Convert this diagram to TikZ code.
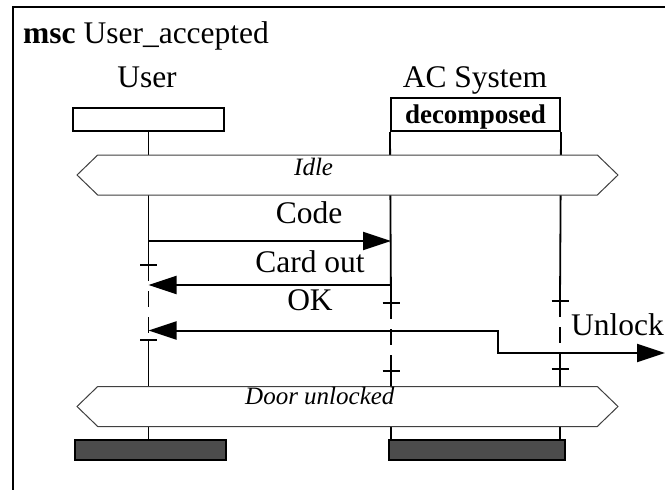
\documentclass[tikz,border=0pt]{standalone}
\usepackage{fontspec}
\setmainfont{Liberation Serif}
\usetikzlibrary{arrows.meta,shapes.symbols}

\tikzset{
  big/.style={font=\fontsize{31.5}{34}\selectfont, inner sep=0pt},
  condlbl/.style={font=\fontsize{25}{28}\selectfont\itshape, inner sep=0pt},
  headbox/.style={draw, line width=2pt, fill=white},
  endbox/.style={draw, line width=2pt, fill=black!70},
  cond/.style={signal, signal to=west and east, signal pointer angle=88,
    draw=black!75, line width=1pt, fill=white,
    minimum height=40pt, minimum width=541pt, inner sep=0pt},
  life/.style={line width=1.8pt},
  coreg/.style={line width=1.8pt, dash pattern=on 16pt off 10pt},
  msg/.style={line width=2pt, -{Triangle[length=28pt,width=18pt]}},
}

\begin{document}
\begin{tikzpicture}[x=1pt,y=-1pt]
 \useasboundingbox (0,0) rectangle (665,490);
 \clip (0,0) rectangle (665,490);
 % frame
 \draw [line width=2.6pt] (13,500) -- (13,7) -- (690,7);
 \node[big, anchor=base west] (title) at (23,43) {\textbf{msc} User\_accepted};
 % instance heads
 \node[big, anchor=base] (username) at (147,87) {User};
 \node[big, anchor=base] (acname) at (475,87) {AC System};
 \node[headbox, minimum width=151pt, minimum height=23pt] (userhead) at (148.5,119.5) {};
 \node[headbox, minimum width=169pt, minimum height=33pt, inner sep=0pt,
   text height=18pt, text depth=0pt, font=\fontsize{27}{30}\selectfont\bfseries]
   (achead) at (475.5,114.5) {decomposed};
 % instance ends
 \node[endbox, minimum width=151pt, minimum height=20pt] (userend) at (150.5,450) {};
 \node[endbox, minimum width=176pt, minimum height=20pt] (acend) at (477,450) {};
 % lifelines
 \coordinate (u1) at (148.5,265);
 \coordinate (u2) at (148.5,340);
 \coordinate (al1) at (391,303);
 \coordinate (al2) at (391,371);
 \coordinate (ar1) at (560,301);
 \coordinate (ar2) at (560,369);
 \draw [life] (userhead.south) -- (u1);
 \draw [coreg] (u1) -- (u2);
 \draw [life] (u2) -- (u2 |- userend.north);
 \draw [life] (achead.south west) -- (al1);
 \draw [coreg] (al1) -- (al2);
 \draw [life] (al2) -- (al2 |- acend.north);
 \draw [life] (achead.south east) -- (ar1);
 \draw [coreg] (ar1) -- (ar2);
 \draw [life] (ar2) -- (ar2 |- acend.north);
 % coregion ticks
 \foreach \c in {u1,u2,al1,al2,ar1,ar2}
   \draw [life] ([xshift=-8.5pt]\c) -- ([xshift=8.5pt]\c);
 % conditions
 \node[cond] (idle) at (347.5,175) {};
 \node[condlbl, anchor=base west] (idlelbl) at (294,175) {Idle};
 \node[cond] (doorunl) at (347.5,406.5) {};
 \node[condlbl, anchor=base west] (doorlbl) at (245,404) {Door unlocked};
 % messages
 \coordinate (codeu) at (148.5,241);
 \draw [msg] (codeu) -- (codeu -| al1);
 \node[big, anchor=base] (codelbl) at (309,223) {Code};
 \coordinate (cardac) at (391,285);
 \draw [msg] (cardac) -- (cardac -| u1);
 \node[big, anchor=base] (cardlbl) at (310,272) {Card out};
 \coordinate (okac) at (560,353);
 \coordinate (okbend) at (498,330.5);
 \draw [msg] (okac) -| (okbend) -- (okbend -| u1);
 \node[big, anchor=base] (oklbl) at (310,310) {OK};
 \coordinate (unlockend) at (665,353);
 \draw [msg] (okac) -- (unlockend);
 \node[big, anchor=base east] (unlocklbl) at (664,335) {Unlock};
\end{tikzpicture}
\end{document}
